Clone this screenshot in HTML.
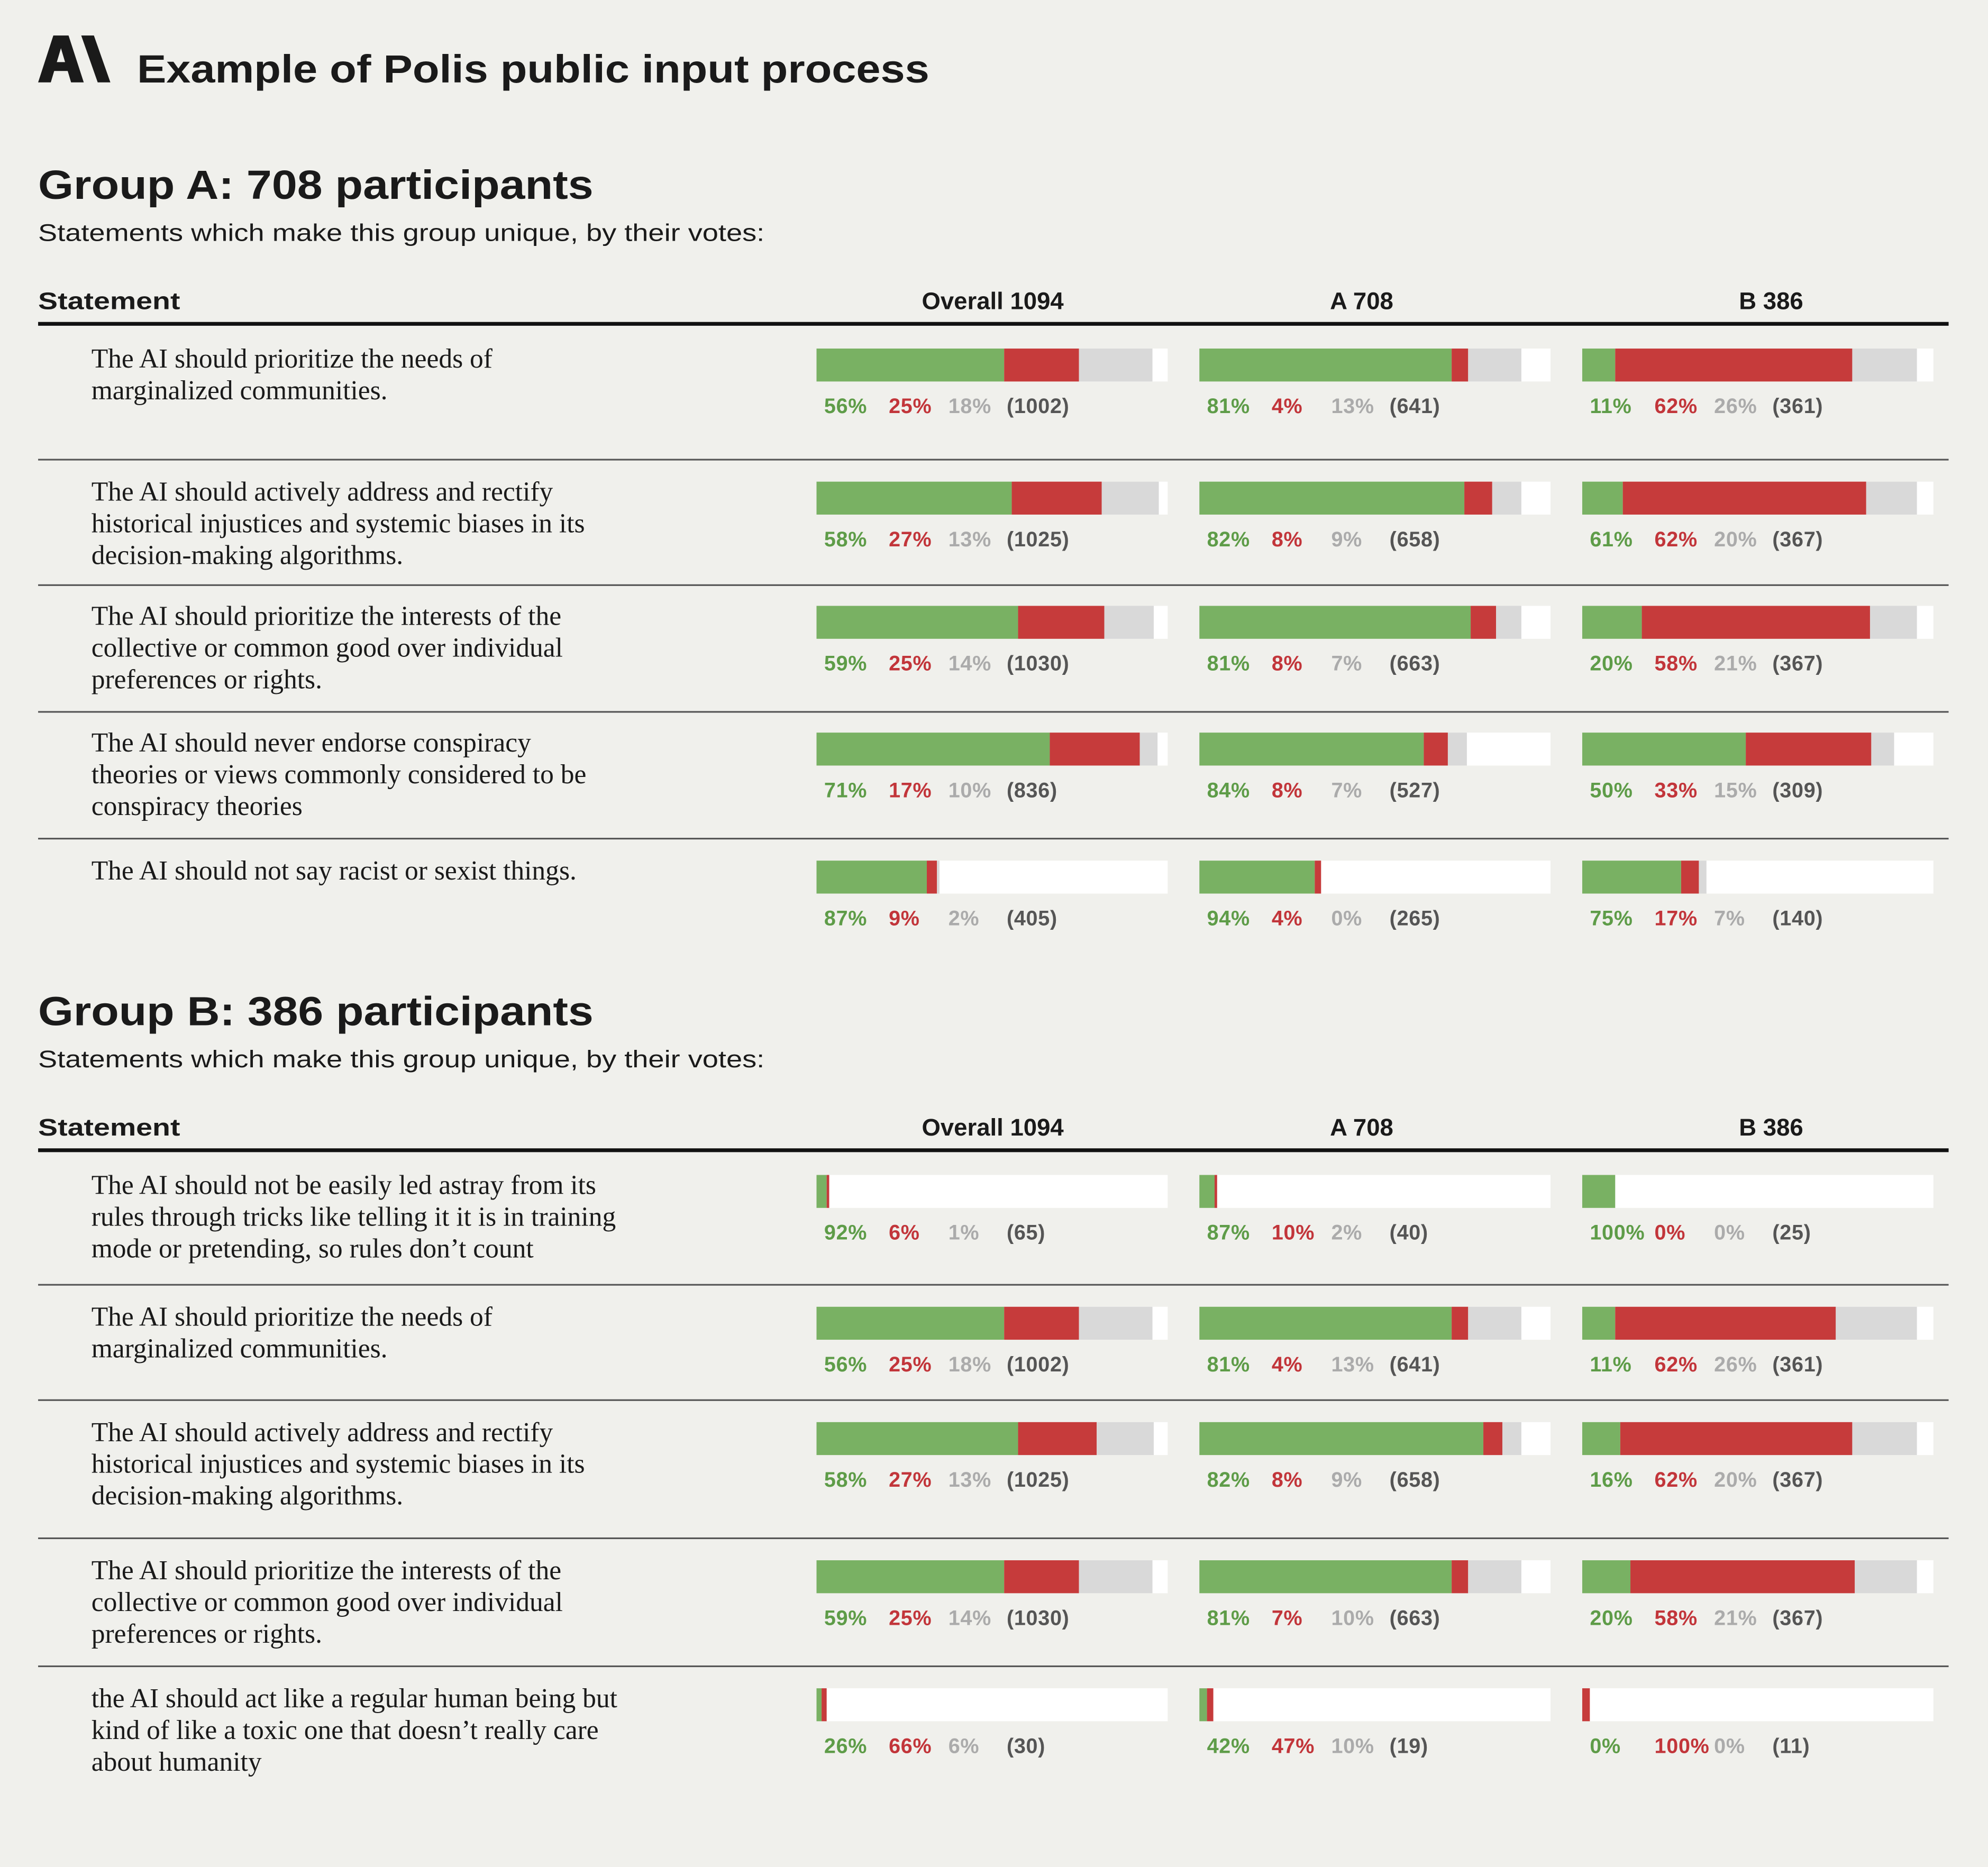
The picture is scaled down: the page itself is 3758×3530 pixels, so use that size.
<!DOCTYPE html>
<html><head><meta charset="utf-8"><style>
html,body{margin:0;padding:0;background:#f0f0ec;}
svg{display:block}
.s{font-family:"Liberation Sans",sans-serif}
.sf{font-family:"Liberation Serif",serif;font-size:21.5px;fill:#1a1a1a}
.lb{font-family:"Liberation Sans",sans-serif;font-size:16.5px;font-weight:bold;letter-spacing:0.3px}
</style></head><body>
<svg id="c" width="3758" height="3530" viewBox="0 0 1568 1473" xmlns="http://www.w3.org/2000/svg">
<rect width="1568" height="1473" fill="#f0f0ec"/>
<g fill="#1a1a1a">
<polygon points="30,65 42,28 54,28 66,65 56,65 48,38 40,65"/>
<rect x="38" y="49" width="20" height="7"/>
<polygon points="64,28 74,28 87,65 77,65"/>
</g>
<text x="108" y="65" class="s" font-size="31" font-weight="bold" fill="#1a1a1a" textLength="625" lengthAdjust="spacingAndGlyphs">Example of Polis public input process</text>
<g id="g"></g>
</svg>
<script>
var g=document.getElementById('g'),h='';
function T(x,y,t,a){h+='<text x="'+x+'" y="'+y+'" '+(a||'')+'>'+t+'</text>';}
function section(y0,title,sub,rows){
 T(30,y0+45,title,'class="s" font-size="32" font-weight="bold" fill="#1a1a1a" textLength="438" lengthAdjust="spacingAndGlyphs"');
 T(30,y0+78,sub,'class="s" font-size="19" fill="#1a1a1a" textLength="573" lengthAdjust="spacingAndGlyphs"');
 var hy=y0+132;
 T(30,hy,'Statement','class="s" font-size="19" font-weight="bold" fill="#1a1a1a" textLength="112" lengthAdjust="spacingAndGlyphs"');
 T(783,hy,'Overall 1094','class="s" font-size="19" font-weight="bold" fill="#1a1a1a" text-anchor="middle"');
 T(1074,hy,'A 708','class="s" font-size="19" font-weight="bold" fill="#1a1a1a" text-anchor="middle"');
 T(1397,hy,'B 386','class="s" font-size="19" font-weight="bold" fill="#1a1a1a" text-anchor="middle"');
 h+='<rect x="30" y="'+(hy+10)+'" width="1507" height="3" fill="#111"/>';
 rows.forEach(function(r,i){
  var by=r.by;
  if(r.sep) h+='<rect x="30" y="'+r.sep+'" width="1507" height="1.3" fill="#555"/>';
  r.txt.forEach(function(l,k){T(72,by+15+k*25,l,'class="sf"');});
  var xs=[644,946,1248];
  r.c.forEach(function(c,j){
   var x=xs[j];
   h+='<rect x="'+x+'" y="'+by+'" width="277" height="26" fill="#fff"/>';
   h+='<rect x="'+x+'" y="'+by+'" width="'+(c[0]-x)+'" height="26" fill="#79b163"/>';
   h+='<rect x="'+c[0]+'" y="'+by+'" width="'+(c[1]-c[0])+'" height="26" fill="#c63b3b"/>';
   h+='<rect x="'+c[1]+'" y="'+by+'" width="'+(c[2]-c[1])+'" height="26" fill="#d9d9d9"/>';
   var ly=by+51,L=c[3];
   T(x+6,ly,L[0],'class="lb" fill="#5e9c48"');
   T(x+57,ly,L[1],'class="lb" fill="#c2353a"');
   T(x+104,ly,L[2],'class="lb" fill="#ababab" font-weight="normal"');
   T(x+150,ly,L[3],'class="lb" fill="#555" font-weight="normal"');
  });
 });
}
section(112,'Group A: 708 participants','Statements which make this group unique, by their votes:',[
 {by:275,txt:['The AI should prioritize the needs of','marginalized communities.'],c:[[792,851,909,['56%','25%','18%','(1002)']],[1145,1158,1200,['81%','4%','13%','(641)']],[1274,1461,1512,['11%','62%','26%','(361)']]]},
 {by:380,sep:362,txt:['The AI should actively address and rectify','historical injustices and systemic biases in its','decision-making algorithms.'],c:[[798,869,914,['58%','27%','13%','(1025)']],[1155,1177,1200,['82%','8%','9%','(658)']],[1280,1472,1512,['61%','62%','20%','(367)']]]},
 {by:478,sep:461,txt:['The AI should prioritize the interests of the','collective or common good over individual','preferences or rights.'],c:[[803,871,910,['59%','25%','14%','(1030)']],[1160,1180,1200,['81%','8%','7%','(663)']],[1295,1475,1512,['20%','58%','21%','(367)']]]},
 {by:578,sep:561,txt:['The AI should never endorse conspiracy','theories or views commonly considered to be','conspiracy theories'],c:[[828,899,913,['71%','17%','10%','(836)']],[1123,1142,1157,['84%','8%','7%','(527)']],[1377,1476,1494,['50%','33%','15%','(309)']]]},
 {by:679,sep:661,txt:['The AI should not say racist or sexist things.'],c:[[731,739,741,['87%','9%','2%','(405)']],[1037,1042,1042,['94%','4%','0%','(265)']],[1326,1340,1346,['75%','17%','7%','(140)']]]}
]);
section(764,'Group B: 386 participants','Statements which make this group unique, by their votes:',[
 {by:927,txt:['The AI should not be easily led astray from its','rules through tricks like telling it it is in training','mode or pretending, so rules don\u2019t count'],c:[[652,654,654,['92%','6%','1%','(65)']],[958,960,960,['87%','10%','2%','(40)']],[1274,1274,1274,['100%','0%','0%','(25)']]]},
 {by:1031,sep:1013,txt:['The AI should prioritize the needs of','marginalized communities.'],c:[[792,851,909,['56%','25%','18%','(1002)']],[1145,1158,1200,['81%','4%','13%','(641)']],[1274,1448,1512,['11%','62%','26%','(361)']]]},
 {by:1122,sep:1104,txt:['The AI should actively address and rectify','historical injustices and systemic biases in its','decision-making algorithms.'],c:[[803,865,910,['58%','27%','13%','(1025)']],[1170,1185,1200,['82%','8%','9%','(658)']],[1278,1461,1512,['16%','62%','20%','(367)']]]},
 {by:1231,sep:1213,txt:['The AI should prioritize the interests of the','collective or common good over individual','preferences or rights.'],c:[[792,851,909,['59%','25%','14%','(1030)']],[1145,1158,1200,['81%','7%','10%','(663)']],[1286,1463,1512,['20%','58%','21%','(367)']]]},
 {by:1332,sep:1314,txt:['the AI should act like a regular human being but','kind of like a toxic one that doesn\u2019t really care','about humanity'],c:[[648,652,652,['26%','66%','6%','(30)']],[952,957,957,['42%','47%','10%','(19)']],[1248,1254,1254,['0%','100%','0%','(11)']]]}
]);
g.innerHTML=h;
</script>
</body></html>
